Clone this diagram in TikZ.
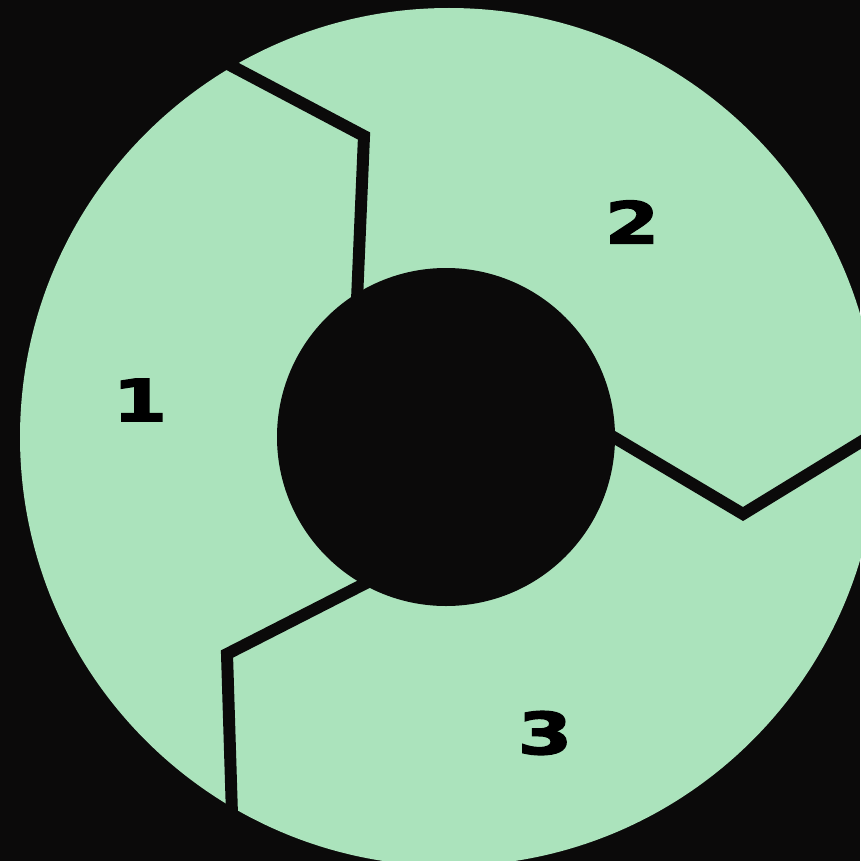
\documentclass[tikz,border=0pt]{standalone}
\usepackage{fontspec}
\newfontfamily\numfont{DejaVu Sans Bold}[FakeBold=2.2]
\usepackage{tikz}
\definecolor{ringgreen}{RGB}{171,227,188}
\definecolor{bgblack}{RGB}{11,10,10}

\begin{document}
\begin{tikzpicture}[
  x=1pt,y=-1pt,
  ring/.style={fill=ringgreen},
  hole/.style={fill=bgblack},
  divider/.style={draw=bgblack,line width=12pt,line join=miter},
  num/.style={font=\numfont\fontsize{58}{60}\selectfont,xscale=1.35,text=black,inner sep=0pt}
]
  % page and background
  \useasboundingbox (0,0) rectangle (860,861);
  \fill[bgblack] (0,0) rectangle (860,861);
  % ring
  \fill[ring] (449,437) circle[radius=429pt];
  \fill[hole] (446,437) circle[radius=169pt];
  % dividers
  \draw[divider] (226,63) -- (364,136) -- (357,300);
  \draw[divider] (605,432) -- (743,514) -- (890,424);
  \draw[divider] (370,581) -- (227,654) -- (232,815);
  % labels
  \node[num] (one) at (140,400) {1};
  \node[num] (two) at (632,222) {2};
  \node[num] (three) at (545,733) {3};
\end{tikzpicture}
\end{document}
